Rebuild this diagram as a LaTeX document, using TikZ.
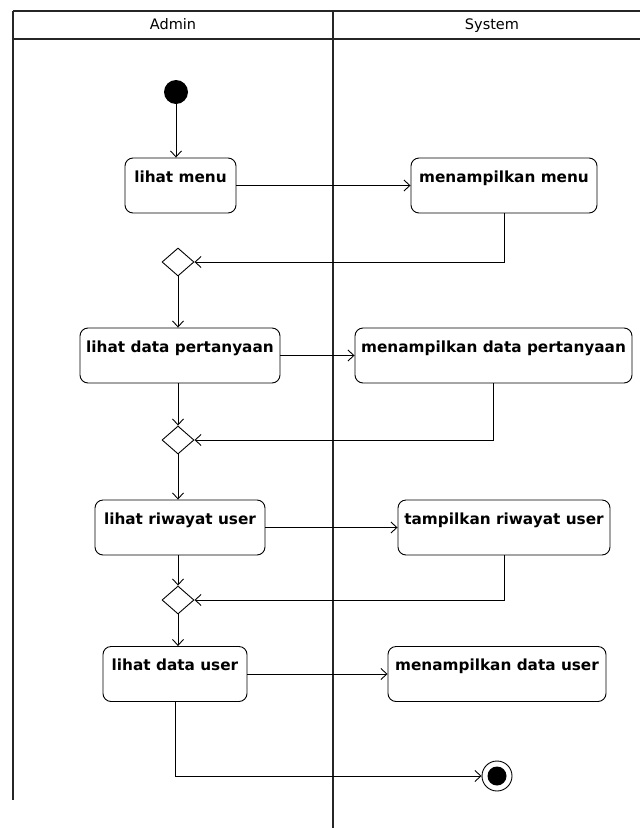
\documentclass[tikz,border=0pt]{standalone}
\usepackage{fontspec}
\setsansfont{DejaVu Sans}
\usetikzlibrary{arrows.meta,shapes.geometric}
\begin{document}
\begin{tikzpicture}[x=1pt,y=-1pt,
  lane/.style={line width=1.6pt, black!85},
  act/.style={draw, line width=0.9pt, rounded corners=8pt, fill=white,
    minimum height=55pt, inner xsep=3pt, inner ysep=8pt,
    text height=16pt, text depth=23pt,
    font=\sffamily\bfseries\fontsize{15.3}{18}\selectfont},
  merge/.style={draw, line width=0.9pt, diamond, fill=white, inner sep=0pt,
    minimum width=32pt, minimum height=28pt},
  flow/.style={line width=0.9pt, -{Straight Barb[length=6pt,width=11pt]}},
  head/.style={text height=11pt, text depth=3pt,
    font=\sffamily\fontsize{14.5}{17}\selectfont}]
\useasboundingbox (0,0) rectangle (640,828);
\fill[white] (0,0) rectangle (640,828);

% swimlanes
\draw[lane] (13,11) -- (640,11);
\draw[lane] (13,39) -- (640,39);
\draw[lane] (13,11) -- (13,800);
\draw[lane] (333,11) -- (333,828);
\node[head] (adminlane) at (173,25) {Admin};
\node[head] (systemlane) at (492,25) {System};

% start and end
\node[circle, fill=black, minimum size=24pt, inner sep=0pt] (start) at (176,92) {};
\node[circle, draw, line width=0.9pt, minimum size=30pt, inner sep=0pt] (final) at (497,776) {};
\node[circle, fill=black, minimum size=19pt, inner sep=0pt] (finaldot) at (497,776) {};

% actions
\node[act, minimum width=111pt] (m1) at (180.5,185.5) {lihat menu};
\node[act, minimum width=186pt] (s1) at (504,185.5) {menampilkan menu};
\node[act, minimum width=200pt] (m2) at (180,355.5) {lihat data pertanyaan};
\node[act, minimum width=277pt] (s2) at (493.5,355.5) {menampilkan data pertanyaan};
\node[act, minimum width=170pt] (m3) at (180,527.5) {lihat riwayat user};
\node[act, minimum width=212pt] (s3) at (504,527.5) {tampilkan riwayat user};
\node[act, minimum width=144pt] (m4) at (175,674) {lihat data user};
\node[act, minimum width=218pt] (s4) at (497,674) {menampilkan data user};

% merge points
\node[merge] (d1) at (178,262) {};
\node[merge] (d2) at (178,440) {};
\node[merge] (d3) at (178,600) {};

% flows
\draw[flow] (start) -- (start |- m1.north);
\draw[flow] (m1.east) -- (s1.west);
\draw[flow] (s1.south) |- (d1.east);
\draw[flow] (d1.south) -- (d1.south |- m2.north);
\draw[flow] (m2.east) -- (s2.west);
\draw[flow] (m2.south -| d2.north) -- (d2.north);
\draw[flow] (s2.south) |- (d2.east);
\draw[flow] (d2.south) -- (d2.south |- m3.north);
\draw[flow] (m3.east) -- (s3.west);
\draw[flow] (m3.south -| d3.north) -- (d3.north);
\draw[flow] (s3.south) |- (d3.east);
\draw[flow] (d3.south) -- (d3.south |- m4.north);
\draw[flow] (m4.east) -- (s4.west);
\draw[flow] (m4.south) |- (final.west);
\end{tikzpicture}
\end{document}
